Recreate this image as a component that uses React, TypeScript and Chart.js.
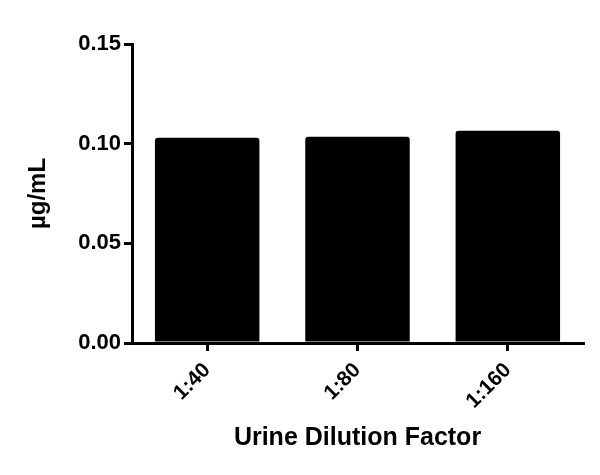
import React, { useEffect, useRef } from 'react';
import Chart from 'chart.js/auto';

// Dilution categories and measured concentration (µg/mL)
const categories = ['1:40', '1:80', '1:160'];
const concentrations = [0.103, 0.1035, 0.1065];
const yTickValues = [0, 0.05, 0.1, 0.15];

const FONT = 'Arial, "Liberation Sans", Helvetica, sans-serif';

export default function App() {
  const chartRef = useRef<HTMLCanvasElement>(null);
  const chartInstance = useRef<Chart | null>(null);

  useEffect(() => {
    document.body.style.margin = '0';
    if (!chartRef.current) return;
    if (chartInstance.current) chartInstance.current.destroy();

    const ctx = chartRef.current.getContext('2d');
    if (!ctx) return;

    chartInstance.current = new Chart(ctx, {
      type: 'bar',
      data: {
        labels: categories,
        datasets: [
          {
            data: concentrations,
            backgroundColor: '#000',
            borderRadius: 3,
            categoryPercentage: 1,
            barPercentage: 0.695,
          },
        ],
      },
      options: {
        animation: false,
        responsive: true,
        maintainAspectRatio: false,
        layout: { padding: { top: 44, right: 17, bottom: 18, left: 20 } },
        plugins: {
          legend: { display: false },
          tooltip: { enabled: false },
        },
        scales: {
          x: {
            afterFit: (scale: any) => {
              scale.height = 114;
            },
            border: { color: '#000', width: 3 },
            grid: {
              offset: false,
              drawOnChartArea: false,
              color: '#000',
              lineWidth: 3,
              tickLength: 8,
            },
            ticks: {
              color: '#000',
              font: { family: FONT, size: 21, weight: 'bold' },
              maxRotation: 45,
              minRotation: 45,
              padding: 7,
            },
            title: {
              display: true,
              text: 'Urine Dilution Factor',
              color: '#000',
              font: { family: FONT, size: 25, weight: 'bold' },
            },
          },
          y: {
            min: 0,
            max: 0.15,
            afterFit: (scale: any) => {
              scale.width = 112;
            },
            afterBuildTicks: (scale: any) => {
              scale.ticks = yTickValues.map((v) => ({ value: v }));
            },
            border: { color: '#000', width: 3 },
            grid: {
              drawOnChartArea: false,
              color: '#000',
              lineWidth: 3,
              tickLength: 8,
            },
            ticks: {
              color: '#000',
              font: { family: FONT, size: 22, weight: 'bold' },
              padding: 3,
              callback: (v: any) => Number(v).toFixed(2),
            },
            title: {
              display: true,
              text: 'µg/mL',
              color: '#000',
              font: { family: FONT, size: 24, weight: 'bold' },
            },
          },
        },
      },
    });

    return () => {
      if (chartInstance.current) {
        chartInstance.current.destroy();
        chartInstance.current = null;
      }
    };
  }, []);

  return (
    <div style={{ position: 'absolute', left: 0, top: 0, width: 600, height: 475, background: '#fff' }}>
      <canvas ref={chartRef}></canvas>
    </div>
  );
}
